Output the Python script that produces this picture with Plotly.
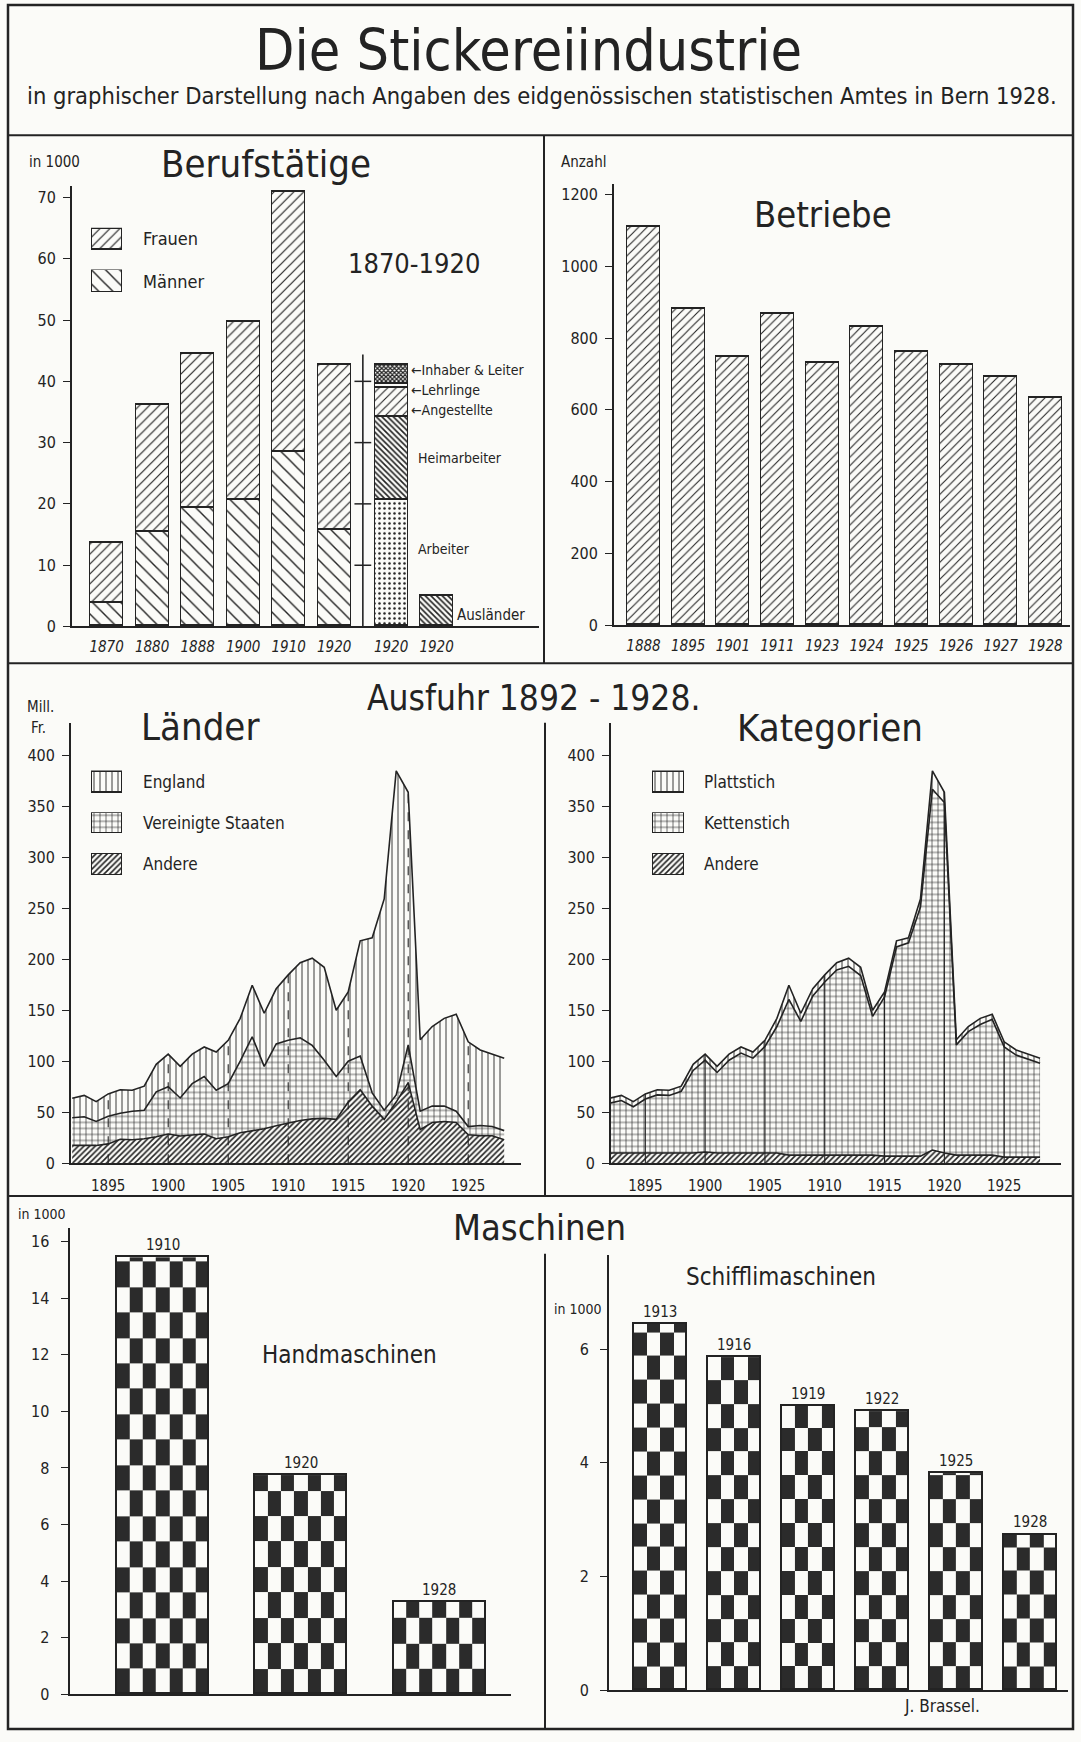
import plotly.graph_objects as go

W, H = 1081, 1742
INK = "#232323"
PAPER = "#fbfbf8"
FONT = "DejaVu Sans Condensed, Liberation Sans Narrow, DejaVu Sans, sans-serif"

# ---------------- data ----------------
beruf_labels = ["1870", "1880", "1888", "1900", "1910", "1920"]
maenner = [3.8, 15.4, 19.4, 20.7, 28.4, 15.8]
frauen = [9.9, 20.7, 25.0, 29.0, 42.6, 26.9]
gliederung_names = ["Arbeiter", "Heimarbeiter", "Angestellte", "Lehrlinge", "Inhaber & Leiter"]
gliederung_1920 = [20.7, 13.5, 4.7, 0.6, 3.2]
auslaender_1920 = [4.9]

betriebe_labels = ["1888", "1895", "1901", "1911", "1923", "1924", "1925", "1926", "1927", "1928"]
betriebe = [1110, 880, 746, 868, 731, 830, 762, 724, 691, 633]

ausfuhr_years = [1892, 1893, 1894, 1895, 1896, 1897, 1898, 1899, 1900, 1901, 1902, 1903,
                 1904, 1905, 1906, 1907, 1908, 1909, 1910, 1911, 1912, 1913, 1914, 1915,
                 1916, 1917, 1918, 1919, 1920, 1921, 1922, 1923, 1924, 1925, 1926, 1927, 1928]
laender_andere = [17.5, 17.5, 17.5, 19, 23.6, 23, 24, 26, 28.7, 26.7, 27.7, 28.7,
                  24, 26, 30, 32, 33.8, 36.8, 39.5, 42, 43.5, 44, 43, 60,
                  72, 56, 43, 60, 79, 33, 40, 41, 40, 28, 27, 27, 23]
laender_vs = [27.1, 28.1, 23.5, 27, 25.4, 28, 28, 44, 46.3, 37.3, 50.3, 56.3,
              47.5, 52, 70, 92, 61.2, 80.2, 81, 81, 72, 57, 42, 40,
              33, 13, 9, 7, 37, 18, 16, 15, 11, 8, 10, 9, 9]
laender_england = [19.2, 20.9, 19.4, 22, 23, 20.5, 23.6, 27, 32, 31, 29, 29,
                   37.5, 42.5, 42, 50.5, 52, 54, 64.1, 73.5, 85.5, 91, 65, 68,
                   113, 152, 207, 317.5, 247.5, 70, 78, 86, 95, 83, 74, 71, 71]

kat_andere = [10, 10, 10, 10, 10, 10, 10, 10, 11, 10, 10, 10,
              10, 10, 10, 8, 8, 8, 8, 8, 8, 8, 8, 7,
              7, 7, 7, 13, 10, 8, 8, 8, 8, 6, 6, 6, 6]
kat_kettenstich = [48.8, 51.5, 45.4, 53, 57, 56.5, 60.6, 81, 90, 79, 91, 98,
                   93, 104.5, 124, 152.5, 131, 156, 169.6, 181.5, 185, 176, 136, 156,
                   205, 209, 244, 353.5, 343.5, 108, 121, 128, 133, 108, 100, 96, 92]
kat_plattstich = [5, 5, 5, 5, 5, 5, 5, 6, 6, 6, 6, 6,
                  6, 6, 8, 14, 8, 7, 7, 7, 8, 8, 6, 5,
                  6, 5, 8, 18, 10, 5, 5, 6, 5, 5, 5, 5, 5]
ausfuhr_ticks = [1895, 1900, 1905, 1910, 1915, 1920, 1925]

hand_labels = ["1910", "1920", "1928"]
handmaschinen = [15.45, 7.75, 3.27]
schiffli_labels = ["1913", "1916", "1919", "1922", "1925", "1928"]
schifflimaschinen = [6.45, 5.86, 5.0, 4.91, 3.82, 2.74]

# ---------------- helpers ----------------
fig = go.Figure()
layout_axes = {}
counter = [0]


def new_axes(x0, x1, ytop, ybot, xr, yr, xstyle=None, ystyle=None):
    counter[0] += 1
    n = counter[0]
    s = "" if n == 1 else str(n)
    xa = dict(domain=[x0 / W, x1 / W], range=xr, anchor="y" + s, showgrid=False,
              zeroline=False, fixedrange=True)
    ya = dict(domain=[1 - ybot / H, 1 - ytop / H], range=yr, anchor="x" + s,
              showgrid=False, zeroline=False, fixedrange=True)
    xa.update(xstyle or {})
    ya.update(ystyle or {})
    layout_axes["xaxis" + s] = xa
    layout_axes["yaxis" + s] = ya
    return "x" + s, "y" + s


def tfont(size=15):
    return dict(family=FONT, size=size, color=INK)


X_STYLE = dict(showline=True, linecolor=INK, linewidth=1.8, ticks="", tickfont=tfont(15),
               ticklabelstandoff=6)
Y_STYLE = dict(showline=True, linecolor=INK, linewidth=1.8, ticks="outside", ticklen=7,
               tickwidth=1.4, tickcolor=INK, tickfont=tfont(16), ticklabelstandoff=4)
HIDDEN = dict(visible=False)


def pat(shape, size=7, solidity=0.12):
    return dict(shape=shape, size=size, solidity=solidity, fgcolor=INK, bgcolor=PAPER,
                fillmode="replace")


def bar_marker(shape, size=7, solidity=0.12):
    return dict(color=PAPER, line=dict(color=INK, width=1.5), pattern=pat(shape, size, solidity))


def swatch(x0, y0, x1, y1, shape, size=6, solidity=0.15):
    xr, yr = new_axes(x0, x1, y0, y1, [-0.04, 1.04], [-0.04, 1.04], HIDDEN, HIDDEN)
    fig.add_trace(go.Bar(x=[0.5], y=[1], width=1, xaxis=xr, yaxis=yr,
                         marker=bar_marker(shape, size, solidity), hoverinfo="skip"))


annotations = []


def text(t, px, py, size, xanchor="center", color=INK):
    annotations.append(dict(text=t, x=px / W, y=1 - py / H, xref="paper", yref="paper",
                            xanchor=xanchor, yanchor="middle", showarrow=False,
                            font=dict(family=FONT, size=size, color=color)))


P_FRAU = ("/", 7, 0.17)
P_MANN = ("\\", 10, 0.14)

# ---------------- Panel 1: Berufstätige ----------------
bx = list(range(len(beruf_labels)))
x_glied = 6.25
x_ausl = 7.25
bw = 0.725
xr1, yr1 = new_axes(72, 539, 187, 630, [-0.76, 9.5], [0, 71.9],
                    dict(X_STYLE, tickvals=bx + [x_glied, x_ausl],
                         ticktext=["<i>%s</i>" % t for t in beruf_labels] + ["<i>1920</i>", "<i>1920</i>"],
                         tickfont=tfont(15)),
                    dict(Y_STYLE, tickvals=[0, 10, 20, 30, 40, 50, 60, 70]))
fig.add_trace(go.Bar(x=bx, y=maenner, width=bw, xaxis=xr1, yaxis=yr1,
                     marker=bar_marker(*P_MANN), name="Männer"))
fig.add_trace(go.Bar(x=bx, y=frauen, width=bw, xaxis=xr1, yaxis=yr1,
                     marker=bar_marker(*P_FRAU), name="Frauen"))
glied_pats = [(".", 5, 0.2), ("\\", 4, 0.4), ("/", 6, 0.18), ("", 6, 0.1), ("x", 3, 0.65)]
for name, val, (sh, sz, so) in zip(gliederung_names, gliederung_1920, glied_pats):
    fig.add_trace(go.Bar(x=[x_glied], y=[val], width=bw, xaxis=xr1, yaxis=yr1,
                         marker=bar_marker(sh, sz, so), name=name))
fig.add_trace(go.Bar(x=[x_ausl], y=auslaender_1920, width=bw, xaxis=xr1, yaxis=yr1,
                     marker=bar_marker("\\", 4, 0.4), name="Ausländer"))
# secondary scale line for the 1920 breakdown
x_sec = 5.63
sec_top = sum(gliederung_1920) + 1.7
fig.add_trace(go.Scatter(x=[x_sec, x_sec], y=[0, sec_top], mode="lines", xaxis=xr1, yaxis=yr1,
                         line=dict(color=INK, width=1.6), hoverinfo="skip"))
fig.add_trace(go.Scatter(x=[x_sec] * 4, y=[10, 20, 30, 40], mode="markers", xaxis=xr1, yaxis=yr1,
                         marker=dict(symbol="line-ew", size=12, line=dict(color=INK, width=1.5)),
                         hoverinfo="skip"))
# labels for breakdown
cum = 0
label_y = []
for v in gliederung_1920:
    label_y.append(cum + v / 2)
    cum += v
lab_pos = {"Inhaber & Leiter": label_y[4] + 0.7, "Lehrlinge": label_y[3] - 0.6,
           "Angestellte": label_y[2] - 1.3, "Heimarbeiter": label_y[1], "Arbeiter": label_y[0] + 2.3}
for nm in gliederung_names:
    pre = "←" if nm in ("Inhaber & Leiter", "Lehrlinge", "Angestellte") else ""
    xx = x_glied + bw / 2 + (0.03 if pre else 0.18)
    annotations.append(dict(text=pre + nm, x=xx, y=lab_pos[nm], xref=xr1, yref=yr1,
                            xanchor="left", yanchor="middle", showarrow=False,
                            font=dict(family=FONT, size=14, color=INK)))
annotations.append(dict(text="Ausländer", x=x_ausl + bw / 2 + 0.05, y=1.9, xref=xr1, yref=yr1,
                        xanchor="left", yanchor="middle", showarrow=False,
                        font=dict(family=FONT, size=15, color=INK)))
swatch(91, 229, 123, 252, *P_FRAU)
swatch(91, 271, 123, 295, *P_MANN)
text("Frauen", 141, 240, 18, "left")
text("Männer", 141, 283, 18, "left")
text("in 1000", 54, 163, 15)
text("Berufstätige", 266, 165, 38)
text("1870-1920", 414, 265, 27)

# ---------------- Panel 2: Betriebe ----------------
bx2 = list(range(len(betriebe_labels)))
xr2, yr2 = new_axes(614, 1070, 185, 629, [-0.66, 9.55], [0, 1229],
                    dict(X_STYLE, tickvals=bx2, ticktext=["<i>%s</i>" % t for t in betriebe_labels],
                         tickfont=tfont(15)),
                    dict(Y_STYLE, tickvals=[0, 200, 400, 600, 800, 1000, 1200]))
fig.add_trace(go.Bar(x=bx2, y=betriebe, width=0.735, xaxis=xr2, yaxis=yr2,
                     marker=bar_marker("/", 6, 0.18), name="Betriebe"))
text("Anzahl", 583, 163, 15)
text("Betriebe", 823, 216, 36)

# ---------------- Panel 3/4: Ausfuhr ----------------
def area_panel(x0, x1, xrange, series, line_dash):
    xr, yr = new_axes(x0, x1, 727.6, 1170, xrange, [0, 431],
                      dict(X_STYLE, tickvals=ausfuhr_ticks, tickfont=tfont(15), ticklabelstandoff=8),
                      dict(Y_STYLE, tickvals=[0, 50, 100, 150, 200, 250, 300, 350, 400]))
    for name, vals, p in series:
        fig.add_trace(go.Scatter(x=ausfuhr_years, y=vals, stackgroup=xr, mode="lines",
                                 line=dict(color=INK, width=1.6), fillpattern=p,
                                 fillcolor=PAPER, xaxis=xr, yaxis=yr, name=name))
    totals = [sum(t) for t in zip(*[s[1] for s in series])]
    for yr_tick in ausfuhr_ticks:
        i = ausfuhr_years.index(yr_tick)
        fig.add_trace(go.Scatter(x=[yr_tick, yr_tick], y=[0, totals[i]], mode="lines",
                                 line=dict(color=INK, width=1.1, dash=line_dash),
                                 xaxis=xr, yaxis=yr, hoverinfo="skip"))
    return xr, yr


pat_dash = pat("|", 6, 0.15)
pat_cross = pat("+", 6, 0.2)
pat_hatch = pat("/", 4, 0.4)
area_panel(71, 521, [1891.9, 1929.4],
           [("Andere", laender_andere, pat_hatch),
            ("Vereinigte Staaten", laender_vs, pat_cross),
            ("England", laender_england, pat_dash)], "dash")
area_panel(611, 1061, [1892.13, 1929.75],
           [("Andere", kat_andere, pat_hatch),
            ("Kettenstich", kat_kettenstich, pat_cross),
            ("Plattstich", kat_plattstich, pat_dash)], "solid")

swatch(91, 775, 123, 798, "|", 6, 0.15)
swatch(91, 817, 123, 839, "+", 6, 0.2)
swatch(91, 858, 123, 881, "/", 4, 0.4)
text("England", 141, 787, 17, "left")
text("Vereinigte Staaten", 141, 828, 17, "left")
text("Andere", 141, 869, 17, "left")
swatch(652, 775, 685, 798, "|", 6, 0.15)
swatch(652, 817, 685, 839, "+", 6, 0.2)
swatch(652, 858, 685, 881, "/", 4, 0.4)
text("Plattstich", 702, 787, 17, "left")
text("Kettenstich", 702, 828, 17, "left")
text("Andere", 702, 869, 17, "left")
text("Mill.", 40, 711, 15)
text("Fr.", 38, 732, 15)
text("Länder", 200, 731, 38)
text("Kategorien", 830, 732, 38)
text("Ausfuhr 1892 - 1928.", 533, 702, 35)

# ---------------- Panel 5/6: Maschinen ----------------
def checker_bars(xr, yr, labels, values, width, ncols, cell_h):
    centers = list(range(len(values)))
    for c, v in zip(centers, values):
        xe = [c - width / 2 + j * width / ncols for j in range(ncols + 1)]
        ye = []
        k = 0
        while k * cell_h < v - 1e-9:
            ye.append(k * cell_h)
            k += 1
        ye.append(v)
        z = [[1 - (i + j) % 2 for j in range(ncols)] for i in range(len(ye) - 1)]
        fig.add_trace(go.Heatmap(x=xe, y=ye, z=z, xaxis=xr, yaxis=yr, zmin=0, zmax=1,
                                 colorscale=[[0, PAPER], [1, "#2b2b2b"]], showscale=False,
                                 hoverinfo="skip"))
    fig.add_trace(go.Bar(x=centers, y=values, width=width, xaxis=xr, yaxis=yr,
                         marker=dict(color="rgba(0,0,0,0)", line=dict(color=INK, width=1.6))))
    for c, v, t in zip(centers, values, labels):
        annotations.append(dict(text=t, x=c, y=v, xref=xr, yref=yr, xanchor="center",
                                yanchor="bottom", yshift=1, showarrow=False,
                                font=dict(family=FONT, size=15, color=INK)))


xr5, yr5 = new_axes(69.5, 511, 1235, 1704, [-0.674, 2.52], [0, 16.49],
                    dict(X_STYLE, showticklabels=False),
                    dict(Y_STYLE, tickvals=[0, 2, 4, 6, 8, 10, 12, 14, 16], ticklabelstandoff=8))
checker_bars(xr5, yr5, hand_labels, handmaschinen, 0.665, 7, 0.9)
xr6, yr6 = new_axes(609, 1068, 1262, 1700, [-0.696, 5.51], [0, 7.66],
                    dict(X_STYLE, showticklabels=False),
                    dict(Y_STYLE, tickvals=[0, 2, 4, 6], ticklabelstandoff=8))
checker_bars(xr6, yr6, schiffli_labels, schifflimaschinen, 0.716, 4, 0.42)
text("in 1000", 42, 1221, 14)
text("Maschinen", 539, 1235, 36)
text("Handmaschinen", 349, 1363, 24)
text("Schifflimaschinen", 781, 1284, 24)
text("in 1000", 578, 1317, 14)
text("J. Brassel.", 942, 1716, 17)

# ---------------- header ----------------
text("Die Stickereiindustrie", 528, 50, 57)
text("in graphischer Darstellung nach Angaben des eidgenössischen statistischen Amtes in Bern 1928.",
     542, 97, 23.5)

# ---------------- frame ----------------
shapes = []


def hline(x0, x1, y, w=2):
    shapes.append(dict(type="line", xref="paper", yref="paper", x0=x0 / W, x1=x1 / W,
                       y0=1 - y / H, y1=1 - y / H, line=dict(color=INK, width=w)))


def vline(x, y0, y1, w=2):
    shapes.append(dict(type="line", xref="paper", yref="paper", x0=x / W, x1=x / W,
                       y0=1 - y0 / H, y1=1 - y1 / H, line=dict(color=INK, width=w)))


shapes.append(dict(type="rect", xref="paper", yref="paper", x0=8 / W, x1=1073 / W,
                   y0=1 - 1739 / H, y1=1 - 5 / H, line=dict(color=INK, width=2.5)))
hline(8, 1073, 136)
hline(8, 1073, 667)
hline(8, 1073, 1203)
vline(544, 136, 667)
vline(545, 727, 1203)
vline(545, 1261, 1739)

fig.update_layout(width=W, height=H, margin=dict(l=0, r=0, t=0, b=0),
                  paper_bgcolor=PAPER, plot_bgcolor="rgba(0,0,0,0)",
                  barmode="stack", bargap=0, showlegend=False,
                  annotations=annotations, shapes=shapes, **layout_axes)

fig.write_html("out.html", config={"displayModeBar": False},
               post_script="document.body.style.margin='0';document.body.style.padding='0';")
